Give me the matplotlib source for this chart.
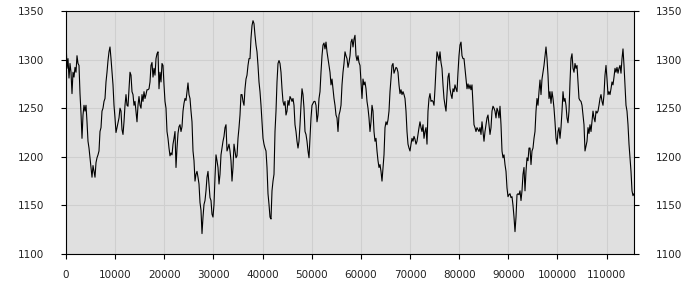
import numpy as np
import matplotlib
matplotlib.use("Agg")
import matplotlib.pyplot as plt

# Значения ряда (шаг по оси X ~204)
STEP = 203.5
part_1 = [1320, 1291, 1301, 1281, 1296, 1287, 1265, 1287, 1282, 1292,
          1287, 1304, 1296, 1294, 1265, 1245, 1219, 1243, 1253, 1247,
          1253, 1236, 1216, 1209, 1199, 1189, 1179, 1191, 1185, 1179,
          1194, 1199, 1202, 1206, 1226, 1230, 1247, 1250, 1257, 1260,
          1277, 1287, 1299, 1308, 1313, 1301, 1287, 1274, 1253, 1240,
          1225, 1230, 1235, 1240, 1250, 1247, 1228, 1223, 1236, 1253,
          1264, 1253, 1252, 1270, 1287, 1284, 1267, 1264, 1253, 1257,
          1247, 1236, 1253, 1262, 1253, 1250, 1264, 1257, 1267, 1260,
          1264, 1269, 1269, 1270, 1277, 1294, 1297, 1282, 1291]
part_2 = [1284, 1301, 1306, 1308, 1270, 1287, 1277, 1296, 1294, 1274,
          1257, 1250, 1226, 1219, 1209, 1201, 1204, 1202, 1213, 1219,
          1226, 1189, 1209, 1224, 1231, 1233, 1226, 1231, 1247, 1255,
          1260, 1258, 1267, 1276, 1264, 1260, 1247, 1236, 1206, 1196,
          1175, 1182, 1185, 1179, 1172, 1153, 1145, 1121, 1138, 1151,
          1155, 1165, 1179, 1185, 1172, 1158, 1155, 1141, 1138, 1151,
          1179, 1202, 1196, 1189, 1172, 1182, 1202, 1209, 1216, 1221,
          1230, 1233, 1206, 1209, 1213, 1206, 1196, 1175, 1189, 1213,
          1206, 1199, 1201, 1219, 1230, 1243, 1264, 1264, 1257, 1253,
          1270, 1280, 1284, 1294, 1301]
part_3 = [1301, 1322, 1335, 1340, 1337, 1325, 1315, 1308, 1294, 1277,
          1267, 1253, 1236, 1219, 1213, 1209, 1206, 1189, 1162, 1151,
          1138, 1136, 1165, 1175, 1182, 1226, 1247, 1277, 1296, 1299,
          1296, 1287, 1270, 1257, 1253, 1257, 1243, 1247, 1258, 1253,
          1262, 1260, 1257, 1260, 1253, 1233, 1226, 1216, 1209, 1216,
          1233, 1253, 1270, 1264, 1250, 1226, 1223, 1216, 1206, 1199,
          1219, 1240, 1253, 1255, 1257, 1257, 1253, 1236, 1243, 1260,
          1267, 1287, 1304, 1315, 1317, 1311, 1318, 1308, 1301, 1294,
          1287, 1274, 1280, 1270, 1260, 1253, 1243, 1240, 1226, 1243,
          1247, 1253, 1274, 1287, 1296]
part_4 = [1308, 1304, 1301, 1292, 1297, 1304, 1318, 1321, 1313, 1321,
          1325, 1304, 1299, 1304, 1297, 1294, 1277, 1260, 1280, 1274,
          1277, 1270, 1257, 1250, 1240, 1226, 1236, 1253, 1247, 1226,
          1216, 1219, 1206, 1196, 1189, 1192, 1185, 1175, 1189, 1202,
          1230, 1236, 1233, 1238, 1247, 1267, 1280, 1294, 1296, 1286,
          1289, 1292, 1291, 1287, 1274, 1265, 1269, 1264, 1267, 1264,
          1260, 1247, 1226, 1213, 1209, 1206, 1213, 1219, 1216, 1221,
          1218, 1213, 1216, 1223, 1230, 1236, 1230, 1226, 1233, 1219,
          1226, 1230, 1213, 1247, 1260, 1265, 1257, 1258, 1257, 1253,
          1270, 1291, 1308, 1304, 1299]
part_5 = [1308, 1297, 1291, 1274, 1260, 1253, 1247, 1264, 1282, 1286,
          1270, 1264, 1260, 1270, 1267, 1274, 1270, 1267, 1287, 1304,
          1315, 1318, 1304, 1301, 1301, 1291, 1280, 1270, 1275, 1270,
          1274, 1269, 1274, 1253, 1233, 1230, 1226, 1230, 1228, 1226,
          1230, 1223, 1236, 1226, 1216, 1226, 1233, 1240, 1243, 1233,
          1223, 1230, 1247, 1252, 1250, 1247, 1240, 1250, 1247, 1240,
          1252, 1233, 1206, 1199, 1202, 1192, 1185, 1168, 1159, 1161,
          1162, 1158, 1159, 1150, 1138, 1123, 1138, 1161, 1162, 1161,
          1165, 1155, 1165, 1182, 1189, 1165, 1185, 1199, 1196, 1209,
          1209, 1192, 1206, 1209, 1219]
part_6 = [1226, 1247, 1260, 1253, 1267, 1279, 1264, 1280, 1287, 1294,
          1303, 1313, 1301, 1284, 1260, 1267, 1255, 1267, 1260, 1250,
          1236, 1219, 1213, 1226, 1230, 1219, 1230, 1247, 1267, 1257,
          1260, 1253, 1240, 1235, 1247, 1277, 1301, 1306, 1291, 1287,
          1296, 1291, 1294, 1277, 1260, 1258, 1257, 1253, 1243, 1233,
          1206, 1211, 1216, 1230, 1224, 1233, 1226, 1236, 1247, 1240,
          1236, 1247, 1245, 1247, 1253, 1260, 1264, 1257, 1253, 1264,
          1284, 1294, 1280, 1264, 1267, 1264, 1270, 1277, 1274, 1282,
          1291, 1287, 1292, 1286, 1291, 1294, 1286, 1301, 1311, 1294,
          1274, 1253, 1247, 1233, 1213, 1199, 1185, 1165, 1160, 1162]

values = part_1 + part_2 + part_3 + part_4 + part_5 + part_6
x_ticks = list(range(0, 110001, 10000))
y_ticks = [1100, 1150, 1200, 1250, 1300, 1350]

x = np.arange(len(values)) * STEP

plt.rcParams["font.family"] = ["DejaVu Sans"]
fig = plt.figure(figsize=(7, 3), dpi=100)
ax = fig.add_axes([66 / 700, 1 - 254 / 300, 568 / 700, 243 / 300])
ax.set_facecolor("#e0e0e0")
ax.plot(x, values, color="black", linewidth=0.8)

ax.set_xlim(0, x[-1])
ax.set_ylim(1100, 1350)
ax.set_xticks(x_ticks)
ax.set_xticklabels([str(t) for t in x_ticks])
ax.set_yticks(y_ticks)
ax.grid(True, color="#cfcfcf", linewidth=0.8)
ax.set_axisbelow(True)

ax.tick_params(axis="y", which="both", direction="out", length=3.5,
               width=0.8, pad=12, labelsize=7.5, labelcolor="#222222",
               left=True, right=True, labelleft=True, labelright=True)
ax.tick_params(axis="x", direction="out", length=3.5, width=0.8, pad=8,
               labelsize=7.5, labelcolor="#222222")
for spine in ax.spines.values():
    spine.set_linewidth(0.8)

fig.savefig("out.png", dpi=100)
